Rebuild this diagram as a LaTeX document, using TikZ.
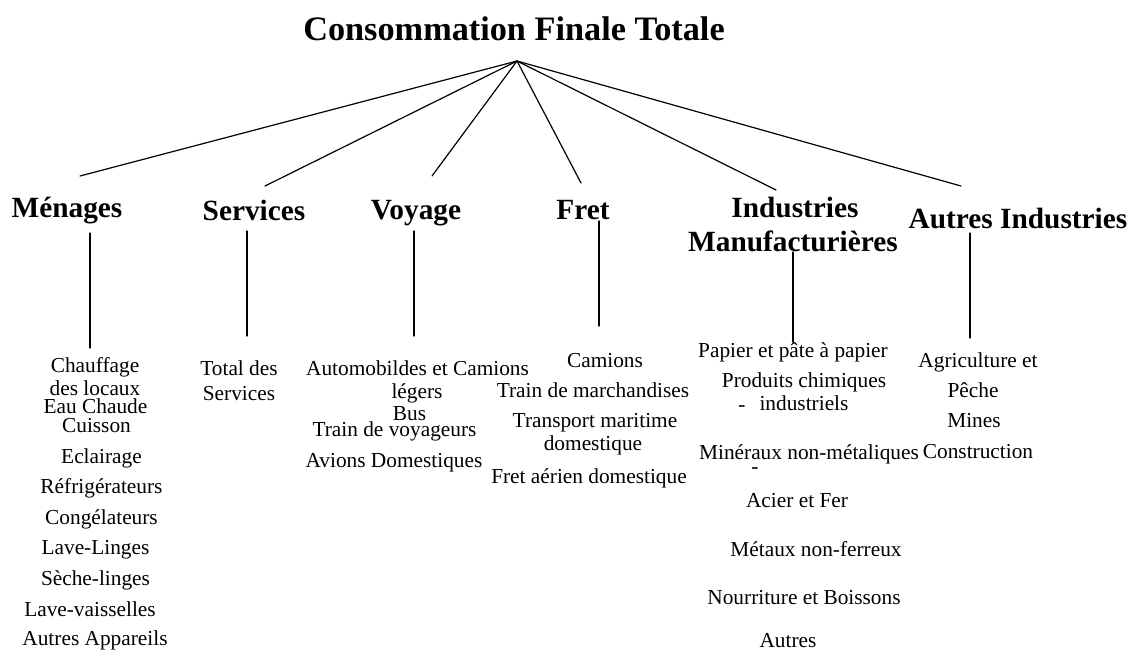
\documentclass[tikz,border=0pt]{standalone}
\usepackage{fontspec}
\setmainfont{Liberation Serif}
\usetikzlibrary{positioning}
\tikzset{
  total/.style={
    font=\fontsize{25.7}{30}\selectfont\bfseries,
    inner sep=0pt,
    anchor=base,
  },
  sector/.style={
    font=\fontsize{22}{26}\selectfont\bfseries,
    inner sep=0pt,
    anchor=base,
  },
  usage/.style={
    font=\fontsize{16}{18}\selectfont,
    inner sep=0pt,
    anchor=base,
  },
  branch/.style={
    line width=0.9pt,
  },
}

\begin{document}
\begin{tikzpicture}[
            x = 0.75pt, % one pixel of the page
            y = -0.75pt, % y runs downwards
            line cap = round
        ]
        \useasboundingbox (0,0) rectangle (1131,651);

        % top of the tree
        \node[total] (cft) at (514,40) {Consommation Finale Totale};
        \coordinate (hub) at (517,61);

        % sectors
        \node[sector] (men) at (67,217) {Ménages};
        \node[sector] (ser) at (254,220) {Services};
        \node[sector] (voy) at (416,219) {Voyage};
        \node[sector] (fre) at (583,219) {Fret};
        \node[sector] (ind) at (795,217) {Industries};
        \node[sector] (ind2) at (793,251) {Manufacturières};
        \node[sector] (aut) at (1018,228) {Autres Industries};

        % ends of the branches
        \coordinate (menT) at (80,176);
        \coordinate (serT) at (265,186);
        \coordinate (voyT) at (432,176);
        \coordinate (freT) at (581,183);
        \coordinate (indT) at (776,190);
        \coordinate (autT) at (961,186);

        \draw[branch] (hub) -- (menT);
        \draw[branch] (hub) -- (serT);
        \draw[branch] (hub) -- (voyT);
        \draw[branch] (hub) -- (freT);
        \draw[branch] (hub) -- (indT);
        \draw[branch] (hub) -- (autT);

        % stems under the sectors
        \coordinate (menA) at (90,233);   \coordinate (menB) at (90,348);
        \coordinate (serA) at (247,231);  \coordinate (serB) at (247,336);
        \coordinate (voyA) at (414,231);  \coordinate (voyB) at (414,336);
        \coordinate (freA) at (599,221);  \coordinate (freB) at (599,326);
        \coordinate (indA) at (793,252);  \coordinate (indB) at (793,342);
        \coordinate (autA) at (970,233);  \coordinate (autB) at (970,338);

        \draw[branch] (menA) -- (menB);
        \draw[branch] (serA) -- (serB);
        \draw[branch] (voyA) -- (voyB);
        \draw[branch] (freA) -- (freB);
        \draw[branch] (indA) -- (indB);
        \draw[branch] (autA) -- (autB);

        % Menages
        \node[usage] (m1) at (95,372) {Chauffage};
        \node[usage] (m2) at (95,395) {des locaux};
        \node[usage] (m3) at (95.5,413) {Eau Chaude};
        \node[usage] (m4) at (96.5,432) {Cuisson};
        \node[usage] (m5) at (101.5,463) {Eclairage};
        \node[usage] (m6) at (101.5,493) {Réfrigérateurs};
        \node[usage] (m7) at (101.5,524) {Congélateurs};
        \node[usage] (m8) at (95.5,554) {Lave-Linges};
        \node[usage] (m9) at (95.5,585) {Sèche-linges};
        \node[usage] (m10) at (90,616) {Lave-vaisselles};
        \node[usage] (m11) at (95,645) {Autres Appareils};

        % Services
        \node[usage] (s1) at (239,375) {Total des};
        \node[usage] (s2) at (239,400) {Services};

        % Voyage
        \node[usage] (v1) at (417.5,375) {Automobildes et Camions};
        \node[usage] (v2) at (417,398) {légers};
        \node[usage] (v3) at (409.5,420) {Bus};
        \node[usage] (v4) at (394.5,436) {Train de voyageurs};
        \node[usage] (v5) at (394,467) {Avions Domestiques};

        % Fret
        \node[usage] (f1) at (605,367) {Camions};
        \node[usage] (f2) at (593,397) {Train de marchandises};
        \node[usage] (f3) at (595,427) {Transport maritime};
        \node[usage] (f4) at (593,450) {domestique};
        \node[usage] (f5) at (589,483) {Fret aérien domestique};

        % Industries manufacturieres
        \node[usage] (i1) at (793,357) {Papier et pâte à papier};
        \node[usage] (i2) at (804,387) {Produits chimiques};
        \node[usage] (i3) at (742,411) {-};
        \node[usage] (i4) at (804,410) {industriels};
        \node[usage] (i5) at (809,459) {Minéraux non-métaliques};
        \node[usage] (i6) at (755,473) {-};
        \node[usage] (i7) at (797,507) {Acier et Fer};
        \node[usage] (i8) at (816,556) {Métaux non-ferreux};
        \node[usage] (i9) at (804,604) {Nourriture et Boissons};
        \node[usage] (i10) at (788,647) {Autres};

        % Autres industries
        \node[usage] (a1) at (978,367) {Agriculture et};
        \node[usage] (a2) at (973,397) {Pêche};
        \node[usage] (a3) at (974,427) {Mines};
        \node[usage] (a4) at (978,458) {Construction};
    \end{tikzpicture}
\end{document}
